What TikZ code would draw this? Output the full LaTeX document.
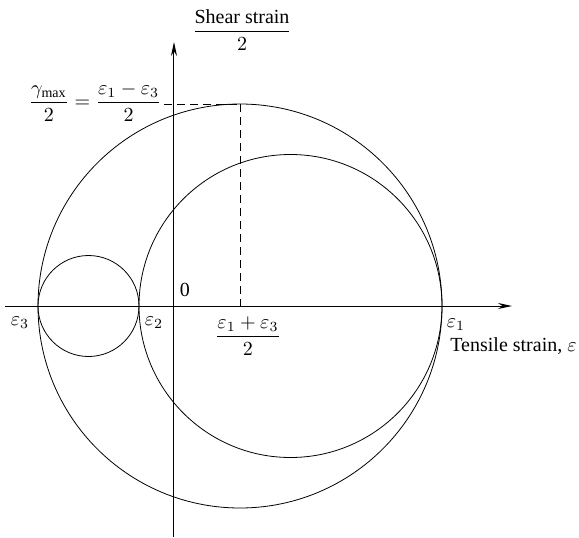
\documentclass[tikz,border=0pt]{standalone}
\usepackage{fontspec}
\setmainfont{Liberation Serif}
\usetikzlibrary{positioning, arrows.meta, calc}

\begin{document}
\begin{tikzpicture}[x=0.5pt, y=0.5pt, every node/.style={align=center, inner sep=1pt}]
    \tikzset{axisline/.style={-{Stealth[length=7pt,width=3pt]}, line width=0.5pt}, mohr/.style={draw, line width=0.4pt}, guide/.style={dash pattern=on 4pt off 2.5pt, line width=0.4pt}}
    \useasboundingbox (-174,-231) rectangle (405,306);
    \coordinate (O) at (0,0);
    \coordinate (xstart) at (-169,0);
    \coordinate (xend) at (338,0);
    \coordinate (ystart) at (0,-231);
    \coordinate (yend) at (0,264);
    \coordinate (c) at (66,0);
    \coordinate (top) at (66,202);
    % the three circles
    \draw[mohr] (c) circle[radius=202];
    \draw[mohr] (116.5,0) circle[radius=151.5];
    \draw[mohr] (-85.5,0) circle[radius=50.5];
    % axes
    \draw[axisline] (xstart) -- (xend);
    \draw[axisline] (ystart) -- (yend);
    % labels
    \node (shear) at (68,276) {$\displaystyle\frac{\mbox{Shear strain}}{2}$};
    \node[anchor=east] (gmax) at (-10,204) {$\displaystyle\frac{\gamma_{\max}}{2} = \frac{\varepsilon_1 - \varepsilon_3}{2}$};
    \node (zero) at (11,16) {0};
    \node (e3) at (-154,-17) {$\varepsilon_3$};
    \node (e2) at (-20,-17) {$\varepsilon_2$};
    \node (mid) at (74,-30) {$\displaystyle\frac{\varepsilon_1 + \varepsilon_3}{2}$};
    \node (e1) at (282,-19) {$\varepsilon_1$};
    \node[anchor=west] (tensile) at (274,-40) {Tensile strain, $\varepsilon$};
    % max shear guides
    \draw[guide] (gmax.east |- top) -- (top);
    \draw[guide] (top) -- (c);
\end{tikzpicture}
\end{document}
